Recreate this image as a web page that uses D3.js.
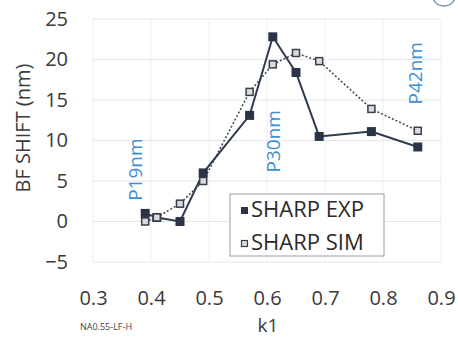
<!DOCTYPE html>
<html>
<head>
<meta charset="utf-8">
<script src="https://cdn.jsdelivr.net/npm/d3@7"></script>
<style>
  body { margin: 0; background: #fff; }
  svg { display: block; font-family: 'Open Sans', sans-serif; }
</style>
</head>
<body>
<div class="chart"></div>
<script>
const k1 = [0.39, 0.41, 0.45, 0.49, 0.57, 0.61, 0.65, 0.69, 0.78, 0.86];
const expShift = [1.0, 0.5, 0.0, 6.0, 13.1, 22.8, 18.4, 10.5, 11.1, 9.2];
const simShift = [0.0, 0.5, 2.2, 5.0, 16.0, 19.4, 20.8, 19.8, 13.9, 11.2];
const xTicks = [0.3, 0.4, 0.5, 0.6, 0.7, 0.8, 0.9];
const yTicks = [-5, 0, 5, 10, 15, 20, 25];
const pitchLabels = [
  { text: 'P19nm', k: 0.372, v: 6.4 },
  { text: 'P30nm', k: 0.61, v: 9.9 },
  { text: 'P42nm', k: 0.855, v: 18.3 }
];

const width = 458;
const height = 338;
const plotLeft = 93, plotRight = 441, plotTop = 19, plotBottom = 262;

const svg = d3.select('.chart')
  .append('svg')
  .attr('width', width)
  .attr('height', height);

const xScale = d3.scaleLinear().domain([0.3, 0.9]).range([plotLeft, plotRight]);
const yScale = d3.scaleLinear().domain([-5, 25]).range([plotBottom, plotTop]);

// grid
svg.append('g')
  .selectAll('line')
  .data(yTicks)
  .enter()
  .append('line')
  .attr('x1', plotLeft).attr('x2', plotRight)
  .attr('y1', d => yScale(d)).attr('y2', d => yScale(d))
  .attr('stroke', '#e4e6ea').attr('stroke-width', 1);

svg.append('g')
  .selectAll('line')
  .data(xTicks)
  .enter()
  .append('line')
  .attr('x1', d => xScale(d)).attr('x2', d => xScale(d))
  .attr('y1', plotTop).attr('y2', plotBottom)
  .attr('stroke', '#eceef1').attr('stroke-width', 1);

// axes (labels only)
const xAxis = d3.axisBottom(xScale).tickValues(xTicks).tickSize(0).tickPadding(29)
  .tickFormat(d3.format('.1f'));
const yAxis = d3.axisLeft(yScale).tickValues(yTicks).tickSize(0).tickPadding(25);

svg.append('g')
  .attr('transform', `translate(0, ${plotBottom})`)
  .call(xAxis)
  .call(g => g.select('.domain').remove())
  .selectAll('text')
  .attr('font-size', 20)
  .attr('font-family', 'Open Sans, sans-serif')
  .attr('fill', '#3a3a3a');

svg.append('g')
  .attr('transform', `translate(${plotLeft}, 0)`)
  .call(yAxis)
  .call(g => g.select('.domain').remove())
  .selectAll('text')
  .attr('font-size', 20)
  .attr('font-family', 'Open Sans, sans-serif')
  .attr('fill', '#3a3a3a');

// axis titles
svg.append('text')
  .attr('transform', 'translate(30, 128) rotate(-90)')
  .attr('text-anchor', 'middle')
  .attr('font-size', 20)
  .attr('fill', '#3a3a3a')
  .text('BF SHIFT (nm)');

svg.append('text')
  .attr('x', 268).attr('y', 332)
  .attr('text-anchor', 'middle')
  .attr('font-size', 19)
  .attr('fill', '#3a3a3a')
  .text('k1');

svg.append('text')
  .attr('x', 80).attr('y', 330)
  .attr('font-size', 9)
  .attr('fill', '#444')
  .text('NA0.55-LF-H');

// pitch labels
svg.selectAll('text.pitch')
  .data(pitchLabels)
  .enter()
  .append('text')
  .attr('class', 'pitch')
  .attr('transform', d => `translate(${xScale(d.k) + 7}, ${yScale(d.v)}) rotate(-90)`)
  .attr('text-anchor', 'middle')
  .attr('font-size', 19)
  .attr('fill', '#3f8fd2')
  .text(d => d.text);

// series
const line = d3.line().x((d, i) => xScale(k1[i])).y(d => yScale(d));

svg.append('path')
  .datum(simShift)
  .attr('d', line)
  .attr('fill', 'none')
  .attr('stroke', '#4a4f58')
  .attr('stroke-width', 1.6)
  .attr('stroke-dasharray', '2,2');

svg.append('path')
  .datum(expShift)
  .attr('d', line)
  .attr('fill', 'none')
  .attr('stroke', '#2e3a4e')
  .attr('stroke-width', 2);

svg.selectAll('rect.exp')
  .data(expShift)
  .enter()
  .append('rect')
  .attr('class', 'exp')
  .attr('x', (d, i) => xScale(k1[i]) - 4.5)
  .attr('y', d => yScale(d) - 4.5)
  .attr('width', 9).attr('height', 9)
  .attr('fill', '#2b3446');

svg.selectAll('rect.sim')
  .data(simShift)
  .enter()
  .append('rect')
  .attr('class', 'sim')
  .attr('x', (d, i) => xScale(k1[i]) - 3.5)
  .attr('y', d => yScale(d) - 3.5)
  .attr('width', 7).attr('height', 7)
  .attr('fill', '#d8dbe0')
  .attr('stroke', '#3a3f48')
  .attr('stroke-width', 1.5);

// legend
const legend = svg.append('g').attr('transform', 'translate(230, 194)');
legend.append('rect')
  .attr('width', 154).attr('height', 62)
  .attr('fill', '#fff')
  .attr('stroke', '#9a9ea6').attr('stroke-width', 1);
legend.append('rect')
  .attr('x', 11).attr('y', 13).attr('width', 7).attr('height', 7)
  .attr('fill', '#2b3446');
legend.append('rect')
  .attr('x', 11.5).attr('y', 46.5).attr('width', 6).attr('height', 6)
  .attr('fill', '#d8dbe0').attr('stroke', '#3a3f48').attr('stroke-width', 1.2);
legend.append('text')
  .attr('x', 21).attr('y', 23)
  .attr('font-size', 22).attr('fill', '#2a2a2a')
  .text('SHARP EXP');
legend.append('text')
  .attr('x', 21).attr('y', 56)
  .attr('font-size', 22).attr('fill', '#2a2a2a')
  .text('SHARP SIM');

// partial icon at top right
svg.append('circle')
  .attr('cx', 444).attr('cy', -6).attr('r', 12)
  .attr('fill', 'none')
  .attr('stroke', '#7f9cb8').attr('stroke-width', 1.5);
</script>
</body>
</html>
